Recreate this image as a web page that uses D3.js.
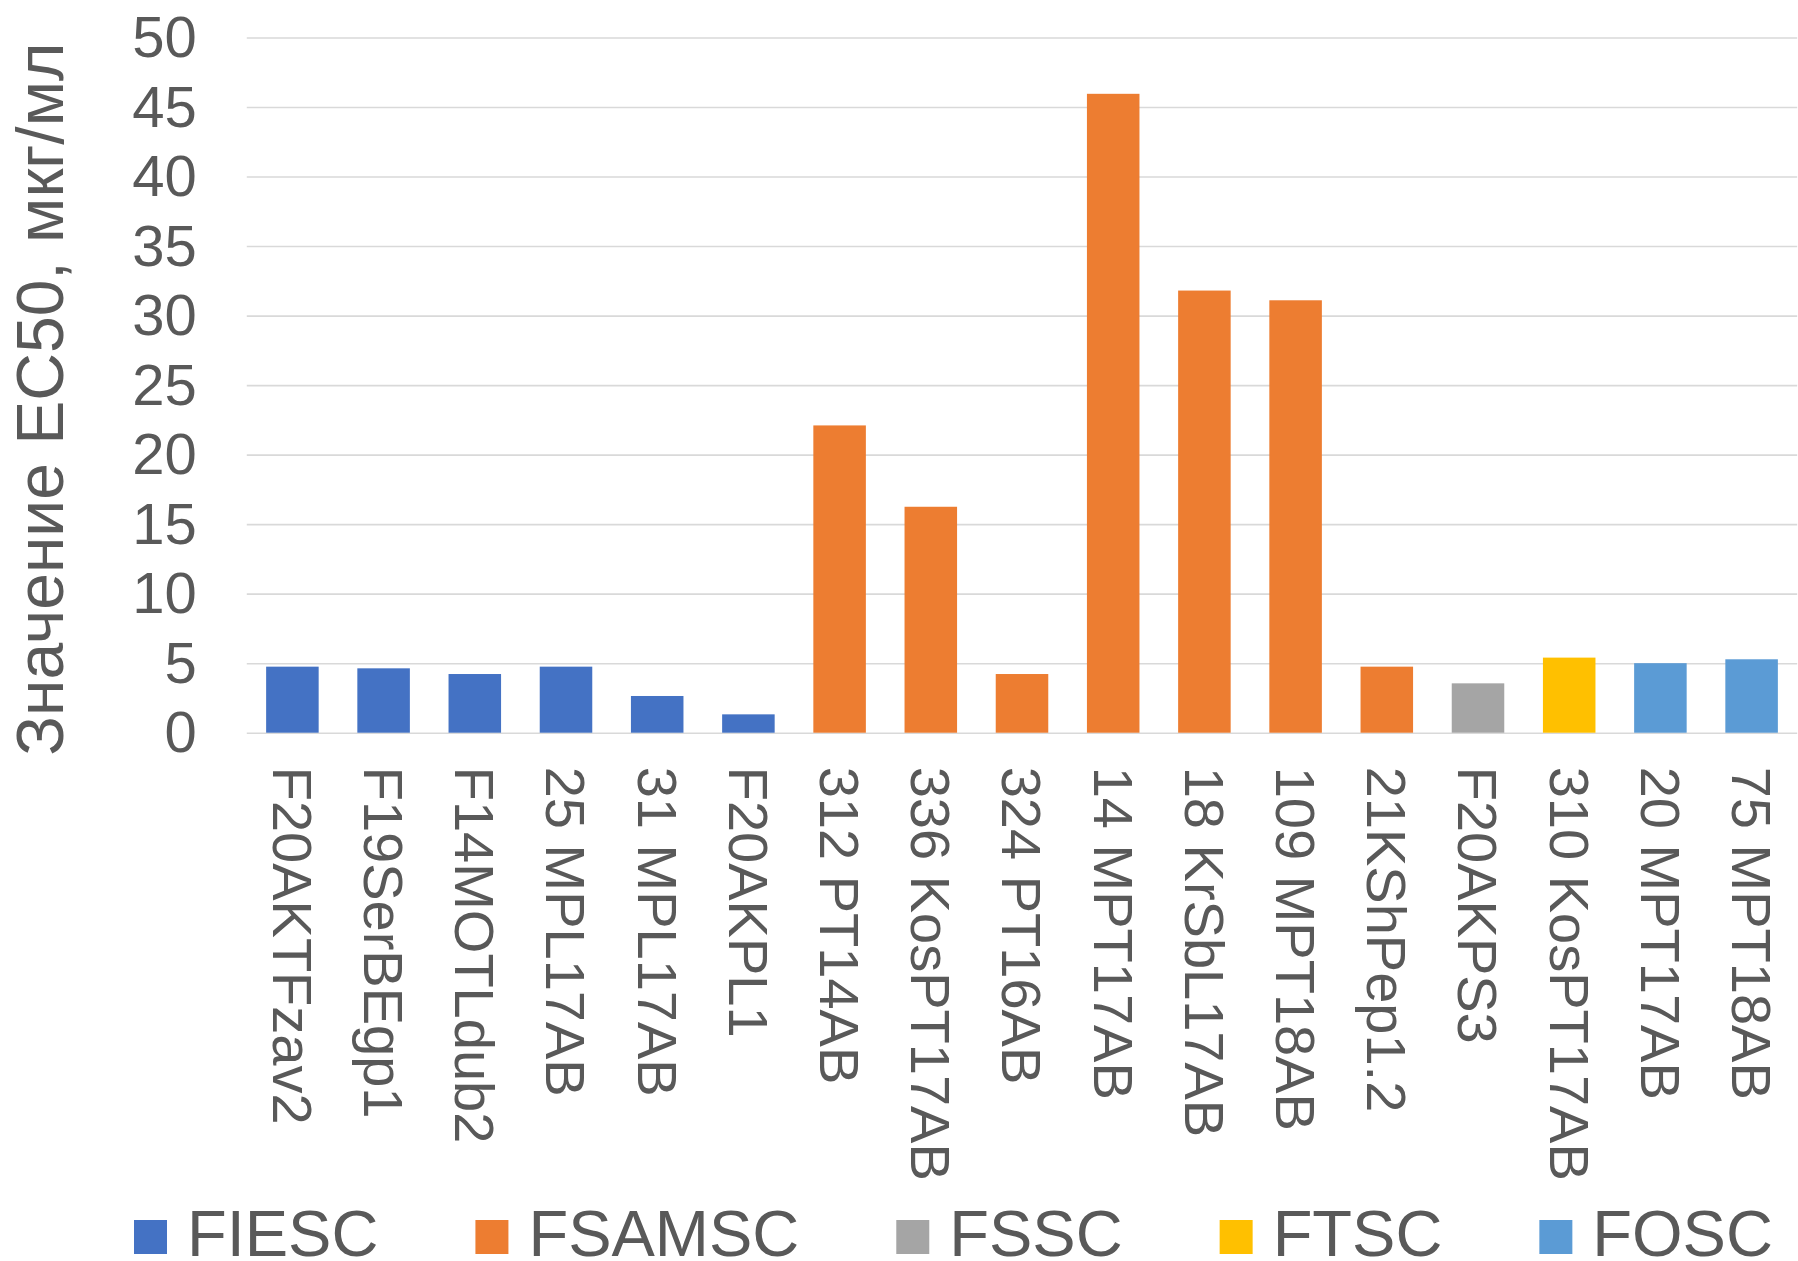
<!DOCTYPE html>
<html>
<head>
<meta charset="utf-8">
<script src="https://cdn.jsdelivr.net/npm/d3@7"></script>
<style>
  html, body { margin: 0; padding: 0; background: #fff; }
  svg { display: block; font-family: "Liberation Sans", Arial, sans-serif; }
</style>
</head>
<body>
<svg id="chart" width="1798" height="1261"></svg>
<script>
// Isolates on the x axis, in plotting order
const isolates = [
  "F20AKTFzav2", "F19SerBEgp1", "F14MOTLdub2", "25 MPL17AB", "31 MPL17AB",
  "F20AKPL1", "312 PT14AB", "336 KosPT17AB", "324 PT16AB", "14 MPT17AB",
  "18 KrSbL17AB", "109 MPT18AB", "21KShPep1.2", "F20AKPS3", "310 KosPT17AB",
  "20 MPT17AB", "75 MPT18AB"
];
// EC50 values, µg/ml
const ec50 = [4.75, 4.63, 4.22, 4.75, 2.64, 1.32, 22.1, 16.25, 4.22, 45.95,
              31.8, 31.1, 4.75, 3.55, 5.4, 5.0, 5.28];
// Species complex of each isolate
const complexOf = ["FIESC", "FIESC", "FIESC", "FIESC", "FIESC", "FIESC",
                   "FSAMSC", "FSAMSC", "FSAMSC", "FSAMSC", "FSAMSC", "FSAMSC", "FSAMSC",
                   "FSSC", "FTSC", "FOSC", "FOSC"];
// Legend entries and their colours
const complexes = ["FIESC", "FSAMSC", "FSSC", "FTSC", "FOSC"];
const complexColors = ["#4472C4", "#ED7D31", "#A5A5A5", "#FFC000", "#5B9BD5"];
// Value axis ticks
const yTicks = [0, 5, 10, 15, 20, 25, 30, 35, 40, 45, 50];
const yTitle = "Значение EC50, мкг/мл";

const data = isolates.map((name, i) => ({ name, value: ec50[i], group: complexOf[i] }));

const svg = d3.select("#chart");
const textColor = "#595959";
const plot = { left: 246.8, right: 1797.2, top: 37.5, bottom: 732.7 };

const x = d3.scaleBand()
  .domain(isolates)
  .range([plot.left, plot.right])
  .paddingInner(0.424)
  .paddingOuter(0.212);

const y = d3.scaleLinear()
  .domain([0, 50])
  .range([plot.bottom, plot.top]);

const color = d3.scaleOrdinal().domain(complexes).range(complexColors);

// Horizontal gridlines and value labels
const yAxis = d3.axisLeft(y).tickValues(yTicks).tickSize(-(plot.right - plot.left)).tickPadding(50);
const gy = svg.append("g")
  .attr("transform", `translate(${plot.left},0)`)
  .call(yAxis);
gy.select(".domain").remove();
gy.selectAll(".tick line").attr("stroke", "#D9D9D9").attr("stroke-width", 1.6);
gy.selectAll(".tick text")
  .attr("fill", textColor)
  .attr("font-size", 58)
  .attr("dy", "0.33em");

// Bars
svg.append("g")
  .selectAll("rect")
  .data(data)
  .join("rect")
  .attr("x", d => x(d.name))
  .attr("width", x.bandwidth())
  .attr("y", d => y(d.value))
  .attr("height", d => y(0) - y(d.value))
  .attr("fill", d => color(d.group));

// Category labels, rotated to read downwards
const gx = svg.append("g")
  .attr("transform", `translate(0,${plot.bottom})`)
  .call(d3.axisBottom(x).tickSize(0).tickPadding(0));
gx.select(".domain").remove();
gx.selectAll(".tick text")
  .attr("fill", textColor)
  .attr("font-size", 56)
  .attr("text-anchor", "start")
  .attr("transform", "translate(0,34) rotate(90)")
  .attr("x", 0)
  .attr("y", 0)
  .attr("dy", "0.35em");

// Value axis title
svg.append("text")
  .attr("transform", `translate(63,${(plot.top + plot.bottom) / 2 + 14}) rotate(-90)`)
  .attr("text-anchor", "middle")
  .attr("fill", textColor)
  .attr("font-size", 66)
  .text(yTitle);

// Legend
const legend = svg.append("g").attr("class", "legend");
let lx = 134;
const boxSize = 33;
const legendBaseline = 1256;
complexes.forEach((name, i) => {
  legend.append("rect")
    .attr("x", lx)
    .attr("y", 1220)
    .attr("width", boxSize)
    .attr("height", boxSize + 1)
    .attr("fill", complexColors[i]);
  const t = legend.append("text")
    .attr("x", lx + boxSize + 20)
    .attr("y", legendBaseline)
    .attr("fill", textColor)
    .attr("font-size", 65)
    .text(name);
  lx += boxSize + 20 + t.node().getComputedTextLength() + 97;
});
</script>
</body>
</html>
